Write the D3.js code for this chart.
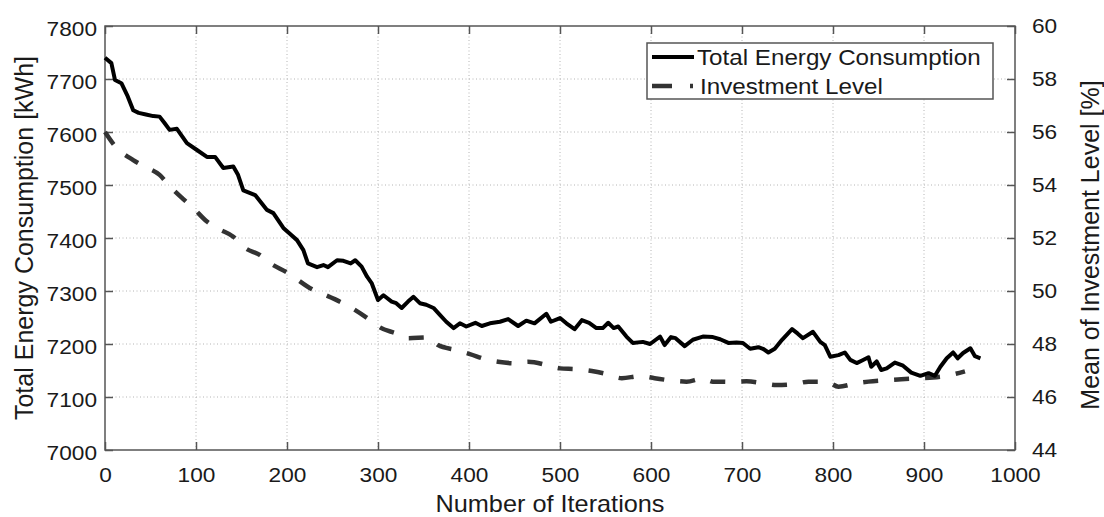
<!DOCTYPE html>
<html>
<head>
<meta charset="utf-8">
<script src="https://cdn.jsdelivr.net/npm/d3@7"></script>
<style>
  body { margin: 0; background: white; }
  text { font-family: "Liberation Sans", Arial, sans-serif; fill: #1a1a1a; }
</style>
</head>
<body>
<div id="chart"></div>
<script>
// total energy consumption (left axis)
var energyIter = [0, 7, 11, 18, 25, 31, 37, 45, 53, 60, 65, 71, 79, 90, 101, 112, 121, 130, 141, 146,
  152, 165, 178, 185, 196, 205, 211, 218, 223, 233, 240, 245, 255, 262, 270, 275, 282, 288, 293, 300,
  306, 315, 320, 326, 333, 339, 346, 353, 361, 368, 375, 383, 390, 397, 407, 414, 423, 434, 443, 454,
  463, 472, 485, 490, 500, 507, 516, 524, 532, 540, 547, 553, 559, 564, 573, 580, 591, 599, 606, 610,
  615, 622, 627, 637, 646, 657, 668, 676, 685, 694, 701, 709, 718, 723, 729, 736, 744, 755, 761, 767,
  778, 786, 791, 797, 806, 813, 819, 826, 832, 839, 842, 848, 853, 859, 868, 877, 886, 896, 905, 912,
  918, 925, 932, 937, 943, 951, 956, 962]
var energy = [7740, 7730, 7698, 7692, 7667, 7641, 7636, 7633, 7630, 7629, 7618, 7604, 7606, 7579, 7566, 7553, 7553, 7532, 7535, 7520,
  7490, 7481, 7453, 7447, 7419, 7405, 7396, 7377, 7352, 7345, 7349, 7345, 7358, 7357, 7352, 7358, 7346, 7327, 7315, 7283,
  7292, 7280, 7277, 7268, 7280, 7289, 7277, 7274, 7268, 7255, 7242, 7230, 7239, 7233, 7240, 7234, 7239, 7242, 7247, 7234,
  7244, 7239, 7257, 7242, 7249, 7239, 7228, 7245, 7240, 7230, 7230, 7240, 7230, 7233, 7214, 7202, 7204, 7200, 7209, 7214,
  7198, 7213, 7211, 7196, 7208, 7214, 7213, 7209, 7202, 7203, 7202, 7191, 7194, 7191, 7184, 7191, 7208, 7228, 7220, 7211,
  7223, 7204, 7198, 7176, 7179, 7184, 7170, 7164, 7169, 7175, 7157, 7167, 7151, 7154, 7165, 7159, 7146, 7140, 7145, 7140,
  7157, 7173, 7184, 7173, 7183, 7192, 7177, 7173]

// mean investment level (right axis)
var investIter = [0, 11, 31, 42, 60, 71, 86, 97, 112, 125, 141, 154, 170, 181, 200, 229, 242, 262, 275, 291,
  302, 320, 333, 355, 366, 386, 401, 419, 432, 452, 465, 487, 500, 518, 535, 551, 568, 588, 604, 623,
  639, 657, 668, 690, 705, 723, 738, 758, 773, 793, 806, 826, 839, 861, 875, 896, 910, 929, 945]
var invest = [56.0, 55.47, 54.94, 54.72, 54.38, 53.96, 53.47, 53.13, 52.62, 52.34, 52.05, 51.62, 51.36, 51.06, 50.7, 50.04, 49.85, 49.53, 49.28, 48.91,
  48.63, 48.40, 48.22, 48.25, 47.96, 47.77, 47.62, 47.42, 47.33, 47.27, 47.33, 47.19, 47.08, 47.05, 46.98, 46.87, 46.71, 46.79, 46.71, 46.62,
  46.58, 46.70, 46.58, 46.57, 46.59, 46.52, 46.45, 46.49, 46.58, 46.58, 46.39, 46.52, 46.58, 46.64, 46.67, 46.71, 46.74, 46.83, 46.97]

var xTicks = [0, 100, 200, 300, 400, 500, 600, 700, 800, 900, 1000]
var yLeftTicks = [7000, 7100, 7200, 7300, 7400, 7500, 7600, 7700, 7800]
var yRightTicks = [44, 46, 48, 50, 52, 54, 56, 58, 60]
var seriesNames = ["Total Energy Consumption", "Investment Level"]

var W = 1104, H = 517
var margin = { top: 26, right: 89, bottom: 67, left: 105 }
var width = W - margin.left - margin.right,
  height = H - margin.top - margin.bottom
var stretch = 1.08

var svg = d3.select("#chart").append("svg")
  .attr("width", W)
  .attr("height", H)

var g = svg.append("g")
  .attr("transform", "translate(" + margin.left + "," + margin.top + ")")

var x = d3.scaleLinear().domain([0, 1000]).range([0, width])
var yL = d3.scaleLinear().domain([7000, 7800]).range([height, 0])
var yR = d3.scaleLinear().domain([44, 60]).range([height, 0])

// grid
var grid = g.append("g").attr("class", "grid")
grid.selectAll(".gx").data(xTicks.slice(1, -1)).enter().append("line")
  .attr("x1", function (d) { return x(d) }).attr("x2", function (d) { return x(d) })
  .attr("y1", 0).attr("y2", height)
grid.selectAll(".gy").data(yLeftTicks.slice(1, -1)).enter().append("line")
  .attr("y1", function (d) { return yL(d) }).attr("y2", function (d) { return yL(d) })
  .attr("x1", 0).attr("x2", width)
grid.selectAll("line")
  .style("stroke", "#b4b4b4")
  .style("stroke-width", 1)
  .style("stroke-dasharray", "1,2.5")

// axes (MATLAB style, ticks pointing inward)
function styleAxis(sel) {
  sel.select(".domain").remove()
  sel.selectAll(".tick line").style("stroke", "#555").style("stroke-width", 1.5)
  sel.selectAll(".tick text")
    .style("font-size", "21px")
    .style("font-family", "Liberation Sans, Arial, sans-serif")
    .style("fill", "#1a1a1a")
    .attr("transform", "scale(" + stretch + ",1)")
}

g.append("g")
  .attr("transform", "translate(0," + height + ")")
  .call(d3.axisBottom(x).tickValues(xTicks).tickSize(-8).tickFormat(d3.format("d")))
  .call(styleAxis)
  .selectAll(".tick text").attr("y", 17)

g.append("g")
  .call(d3.axisTop(x).tickValues(xTicks).tickSize(-8).tickFormat(""))
  .call(styleAxis)

g.append("g")
  .call(d3.axisLeft(yL).tickValues(yLeftTicks).tickSize(-8).tickFormat(d3.format("d")))
  .call(styleAxis)
  .selectAll(".tick text").attr("x", -8 / stretch).attr("dy", "0.45em")

g.append("g")
  .attr("transform", "translate(" + width + ",0)")
  .call(d3.axisRight(yR).tickValues(yRightTicks).tickSize(-8).tickFormat(d3.format("d")))
  .call(styleAxis)
  .selectAll(".tick text").attr("x", 17 / stretch).attr("dy", "0.3em")

g.append("rect")
  .attr("width", width).attr("height", height)
  .style("fill", "none").style("stroke", "#555").style("stroke-width", 1.5)

// lines
var energyData = energyIter.map(function (d, i) { return [d, energy[i]] })
var investData = investIter.map(function (d, i) { return [d, invest[i]] })

var lineE = d3.line()
  .x(function (d) { return x(d[0]) })
  .y(function (d) { return yL(d[1]) })
var lineI = d3.line()
  .x(function (d) { return x(d[0]) })
  .y(function (d) { return yR(d[1]) })
  .curve(d3.curveMonotoneX)

g.append("path")
  .datum(investData)
  .attr("d", lineI)
  .style("fill", "none")
  .style("stroke", "#333")
  .style("stroke-width", 4.5)
  .style("stroke-dasharray", "15,16")

g.append("path")
  .datum(energyData)
  .attr("d", lineE)
  .style("fill", "none")
  .style("stroke", "#000")
  .style("stroke-width", 4)
  .style("stroke-linejoin", "round")

// legend
var legend = svg.append("g").attr("transform", "translate(647,43)")
legend.append("rect")
  .attr("width", 346).attr("height", 56)
  .style("fill", "white").style("stroke", "#555").style("stroke-width", 1.5)

legend.append("line")
  .attr("x1", 5).attr("x2", 47).attr("y1", 14).attr("y2", 14)
  .style("stroke", "#000").style("stroke-width", 4)
legend.append("line")
  .attr("x1", 5).attr("x2", 47).attr("y1", 43).attr("y2", 43)
  .style("stroke", "#333").style("stroke-width", 4.5).style("stroke-dasharray", "20,18,3,40")

legend.selectAll(".lt").data(seriesNames).enter().append("text")
  .attr("transform", function (d, i) { return "translate(" + (50 + i * 3) + "," + (22 + i * 29) + ") scale(1.1,1)" })
  .style("font-size", "22px")
  .text(function (d) { return d })

// axis titles
svg.append("text")
  .attr("transform", "translate(550,512) scale(1.1,1)")
  .attr("text-anchor", "middle")
  .style("font-size", "23px")
  .text("Number of Iterations")

svg.append("text")
  .attr("transform", "translate(33," + (margin.top + height / 2) + ") rotate(-90)")
  .attr("text-anchor", "middle")
  .style("font-size", "25px")
  .text("Total Energy Consumption [kWh]")

svg.append("text")
  .attr("transform", "translate(1099," + (margin.top + height / 2 + 7) + ") rotate(-90)")
  .attr("text-anchor", "middle")
  .style("font-size", "25px")
  .text("Mean of Investment Level [%]")
</script>
</body>
</html>
